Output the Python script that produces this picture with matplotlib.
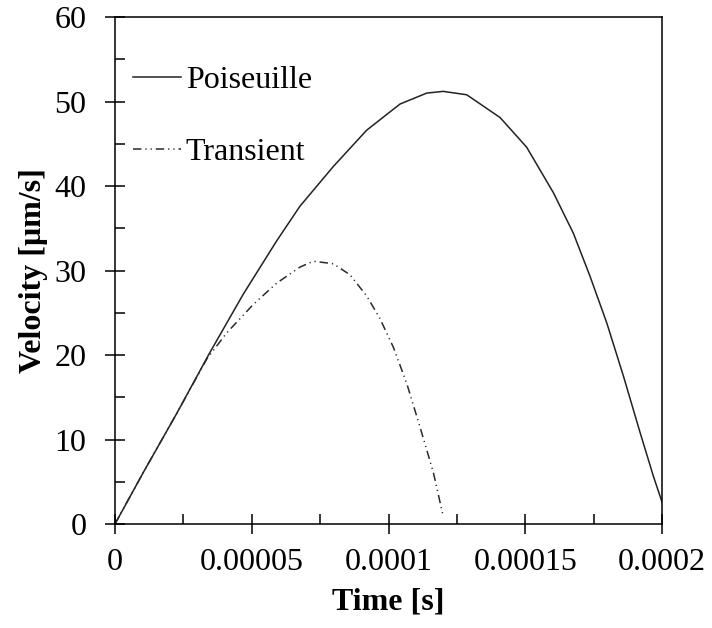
import matplotlib.pyplot as plt
from matplotlib.ticker import MultipleLocator, FuncFormatter

# values
time_pois = [0, 1.035e-5, 2.26e-5, 3.47e-5, 4.69e-5, 5.91e-5, 6.76e-5, 7.98e-5,
             9.2e-5, 1.042e-4, 1.14e-4, 1.2e-4, 1.286e-4, 1.408e-4, 1.505e-4,
             1.603e-4, 1.676e-4, 1.737e-4, 1.798e-4, 1.859e-4, 1.92e-4,
             1.969e-4, 2.0e-4]
vel_pois = [0, 6.1, 13.1, 20.3, 27.2, 33.5, 37.6, 42.3,
            46.6, 49.7, 51.0, 51.2, 50.8, 48.1, 44.6,
            39.2, 34.4, 29.3, 23.8, 17.5, 10.8,
            5.6, 2.6]

time_trans = [0, 1.035e-5, 2.26e-5, 3.35e-5, 4.08e-5, 5.06e-5, 5.91e-5, 6.76e-5,
              7.25e-5, 7.98e-5, 8.59e-5, 9.2e-5, 9.69e-5, 1.018e-4, 1.067e-4,
              1.115e-4, 1.164e-4, 1.198e-4]
vel_trans = [0, 6.1, 13.1, 19.5, 22.6, 26.0, 28.5, 30.4,
             31.1, 30.8, 29.5, 27.0, 24.3, 20.9, 16.6,
             11.5, 6.1, 1.2]

plt.rcParams['font.family'] = ['Liberation Serif', 'DejaVu Serif']

fig = plt.figure(figsize=(7.12, 6.28), dpi=100)
ax = fig.add_axes([0.1615, 0.1656, 0.7683, 0.8073])

ax.plot(time_pois, vel_pois, color='#222222', lw=1.1, label='Poiseuille')
ax.plot(time_trans, vel_trans, color='#2a2a2a', lw=1.1,
        dashes=(5.5, 2.6, 0.8, 2.6, 0.8, 2.6), label='Transient')

ax.set_xlim(0, 0.0002)
ax.set_ylim(0, 60)
ax.xaxis.set_major_locator(MultipleLocator(0.00005))
ax.xaxis.set_minor_locator(MultipleLocator(0.000025))
ax.yaxis.set_major_locator(MultipleLocator(10))
ax.yaxis.set_minor_locator(MultipleLocator(5))

xlabels = {0: '0', 1: '0.00005', 2: '0.0001', 3: '0.00015', 4: '0.0002'}
ax.xaxis.set_major_formatter(FuncFormatter(lambda v, p: xlabels.get(int(round(v / 0.00005)), '')))

ax.tick_params(which='major', direction='inout', length=15, width=1.1,
               labelsize=23, colors='black')
ax.tick_params(axis='x', which='major', pad=10)
ax.tick_params(axis='y', which='major', pad=13)
ax.tick_params(which='minor', direction='in', length=7, width=1.1)
for s in ax.spines.values():
    s.set_linewidth(1.1)

ax.set_xlabel('Time [s]', fontsize=23, fontweight='bold', labelpad=7)
ax.set_ylabel('Velocity [μm/s]', fontsize=23, fontweight='bold', labelpad=5)

ax.legend(loc='upper left', frameon=False, fontsize=23, handlelength=1.5,
          handletextpad=0.15, labelspacing=1.33, borderaxespad=0,
          bbox_to_anchor=(0.0099, 0.929))

fig.savefig('out.png', dpi=100)
